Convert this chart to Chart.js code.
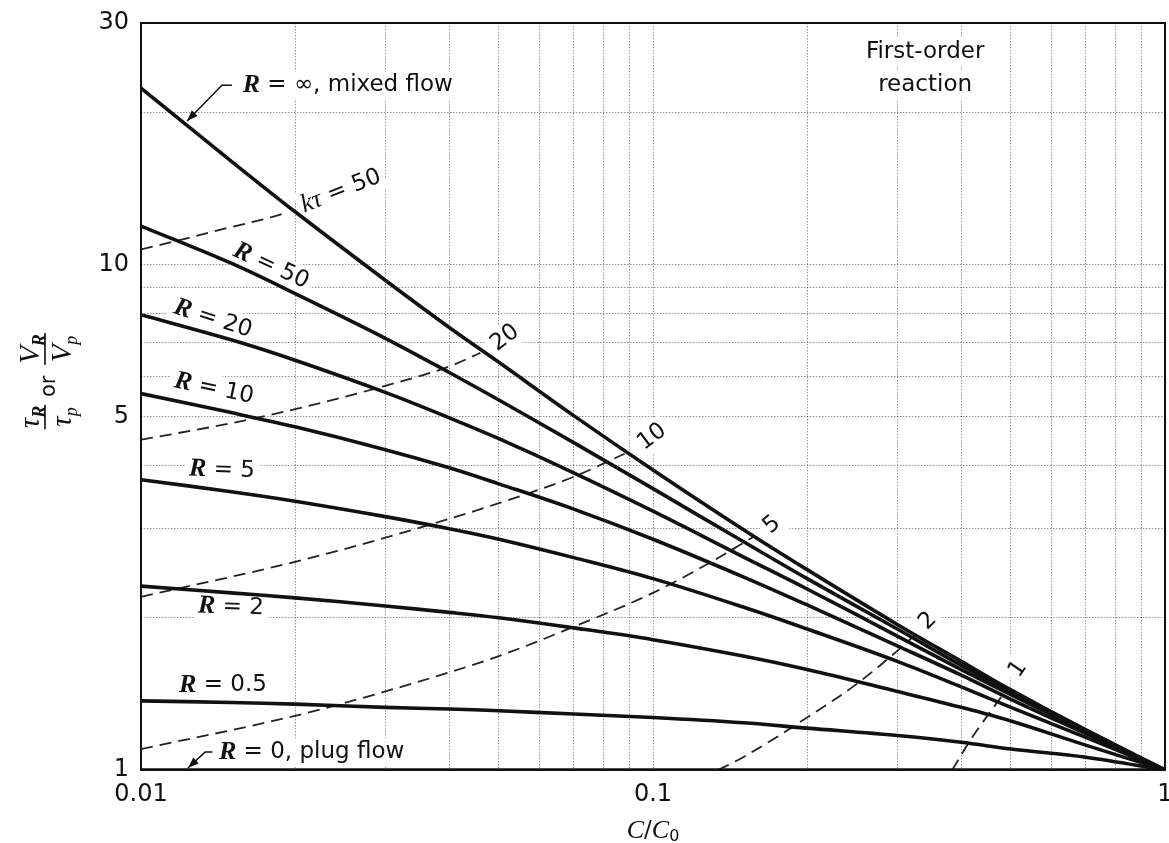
<!DOCTYPE html>
<html>
<head>
<meta charset="utf-8">
<script src="https://cdn.jsdelivr.net/npm/chart.js@4"></script>
<style>
html, body { margin: 0; padding: 0; background: #fff; }
</style>
</head>
<body>
<canvas id="recycle-chart" width="1169" height="843"></canvas>
<script>
var conversion = [0.01, 0.015, 0.02, 0.03, 0.04, 0.05, 0.07, 0.1, 0.15, 0.2, 0.3, 0.4, 0.5, 0.7, 1];
var r_inf = [22.3, 16.0, 12.7, 9.3, 7.5, 6.4, 5.02, 3.92, 2.99, 2.49, 1.94, 1.64, 1.44, 1.2, 1];
var r_50 = [11.9, 10.05, 8.75, 7.14, 6.11, 5.39, 4.44, 3.6, 2.83, 2.39, 1.9, 1.61, 1.43, 1.2, 1];
var r_20 = [7.95, 7.09, 6.46, 5.58, 4.97, 4.52, 3.87, 3.25, 2.64, 2.28, 1.84, 1.58, 1.41, 1.19, 1];
var r_10 = [5.55, 5.09, 4.77, 4.3, 3.96, 3.68, 3.28, 2.86, 2.41, 2.12, 1.76, 1.54, 1.38, 1.18, 1];
var r_5 = [3.75, 3.55, 3.4, 3.17, 3.0, 2.86, 2.63, 2.39, 2.1, 1.9, 1.64, 1.46, 1.33, 1.16, 1];
var r_2 = [2.31, 2.24, 2.19, 2.11, 2.05, 2.0, 1.91, 1.81, 1.68, 1.58, 1.43, 1.33, 1.25, 1.12, 1];
var r_05 = [1.37, 1.36, 1.35, 1.33, 1.32, 1.31, 1.29, 1.27, 1.24, 1.21, 1.17, 1.135, 1.1, 1.06, 1];
var r_0 = [1, 1, 1, 1, 1, 1, 1, 1, 1, 1, 1, 1, 1, 1, 1];

// dashed lines of constant k*tau
var kt50_x = [0.01, 0.0125, 0.015, 0.0175, 0.019];
var kt50_y = [10.7, 11.3, 11.85, 12.3, 12.6];
var kt20_x = [0.01, 0.015, 0.02, 0.03, 0.04, 0.046];
var kt20_y = [4.5, 4.85, 5.17, 5.75, 6.28, 6.68];
var kt10_x = [0.01, 0.02, 0.03, 0.05, 0.07, 0.088];
var kt10_y = [2.2, 2.58, 2.88, 3.37, 3.8, 4.22];
var kt5_x = [0.01, 0.02, 0.03, 0.05, 0.07, 0.1, 0.13, 0.157];
var kt5_y = [1.1, 1.28, 1.43, 1.68, 1.92, 2.24, 2.58, 2.89];
var kt2_x = [0.134, 0.15, 0.2, 0.25, 0.3, 0.325];
var kt2_y = [1.0, 1.06, 1.27, 1.48, 1.72, 1.85];
var kt1_x = [0.384, 0.42, 0.45, 0.49];
var kt1_y = [1.0, 1.16, 1.28, 1.44];

// grid lines and the ticks that carry a label
var x_grid = [0.01, 0.02, 0.03, 0.04, 0.05, 0.06, 0.07, 0.08, 0.09, 0.1, 0.2, 0.3, 0.4, 0.5, 0.6, 0.7, 0.8, 0.9, 1];
var x_labels = [0.01, 0.1, 1];
var y_grid = [1, 2, 3, 4, 5, 6, 7, 8, 9, 10, 20, 30];
var y_labels = [1, 5, 10, 30];

var SANS = '"DejaVu Sans"';
var SERIF = '"Liberation Serif"';
var FONTS = {
    s: '23px ' + SANS,
    rb: 'italic bold 26px ' + SERIF,
    i: 'italic 26px ' + SERIF,
    big: 'italic 29px ' + SERIF,
    sub: '16px ' + SANS,
    subb: 'italic bold 18px ' + SERIF,
    subi: 'italic 18px ' + SERIF
};

// text on the plot, placed in data coordinates
var notes = [
    {x: 0.0158, y: 22.6, rot: 0, align: 'left', parts: [['R', 'rb'], [' = \u221e, mixed flow', 's']]},
    {x: 0.02458, y: 13.96, rot: -21, parts: [['k\u03c4', 'i'], [' = 50', 's']]},
    {x: 0.01795, y: 9.92, rot: 25, parts: [['R', 'rb'], [' = 50', 's']]},
    {x: 0.01382, y: 7.80, rot: 18, parts: [['R', 'rb'], [' = 20', 's']]},
    {x: 0.01388, y: 5.67, rot: 12, parts: [['R', 'rb'], [' = 10', 's']]},
    {x: 0.01439, y: 3.92, rot: 2, parts: [['R', 'rb'], [' = 5', 's']]},
    {x: 0.01499, y: 2.10, rot: 2, parts: [['R', 'rb'], [' = 2', 's']]},
    {x: 0.01446, y: 1.473, rot: 0, parts: [['R', 'rb'], [' = 0.5', 's']]},
    {x: 0.0142, y: 1.085, rot: 0, align: 'left', parts: [['R', 'rb'], [' = 0, plug flow', 's']]},
    {x: 0.0514, y: 7.15, rot: -37, parts: [['20', 's']]},
    {x: 0.0996, y: 4.555, rot: -37, parts: [['10', 's']]},
    {x: 0.1708, y: 3.05, rot: -40, parts: [['5', 's']]},
    {x: 0.3444, y: 1.97, rot: -45, parts: [['2', 's']]},
    {x: 0.5162, y: 1.584, rot: -55, parts: [['1', 's']]},
    {x: 0.34, y: 26.3, rot: 0, parts: [['First-order', 's']]},
    {x: 0.34, y: 22.6, rot: 0, parts: [['reaction', 's']]}
];

var arrows = [
    [[0.01505, 22.6], [0.01439, 22.6], [0.0123, 19.2]],
    [[0.0138, 1.085], [0.01334, 1.085], [0.01235, 1.009]]
];

function zip(xs, ys) {
    return xs.map(function (x, i) { return {x: x, y: ys[i]}; });
}

function solid(label, ys) {
    return {label: label, data: zip(conversion, ys), borderColor: '#111', borderWidth: 3.6,
        pointRadius: 0, fill: false, tension: 0.35};
}

function dashed(label, xs, ys) {
    return {label: label, data: zip(xs, ys), borderColor: '#222', borderWidth: 1.8, borderDash: [12, 7],
        pointRadius: 0, fill: false, cubicInterpolationMode: 'monotone'};
}

function measure(ctx, parts) {
    var w = 0;
    parts.forEach(function (p) { ctx.font = FONTS[p[1]]; w += ctx.measureText(p[0]).width; });
    return w;
}

function placeNote(chart, n) {
    var ctx = chart.ctx;
    var px = chart.scales.x.getPixelForValue(n.x);
    var py = chart.scales.y.getPixelForValue(n.y);
    var w = measure(ctx, n.parts);
    ctx.translate(px, py);
    ctx.rotate(n.rot * Math.PI / 180);
    return n.align === 'left' ? {x0: 0, w: w} : {x0: -w / 2, w: w};
}

function drawParts(ctx, parts, x) {
    parts.forEach(function (p) {
        ctx.font = FONTS[p[1]];
        var dy = p[1].indexOf('sub') === 0 ? 6 : 0;
        ctx.fillText(p[0], x, dy);
        x += ctx.measureText(p[0]).width;
    });
    return x;
}

function drawArrow(chart, pts) {
    var ctx = chart.ctx;
    var p = pts.map(function (q) {
        return [chart.scales.x.getPixelForValue(q[0]), chart.scales.y.getPixelForValue(q[1])];
    });
    ctx.save();
    ctx.strokeStyle = '#111';
    ctx.fillStyle = '#111';
    ctx.lineWidth = 1.5;
    ctx.beginPath();
    ctx.moveTo(p[0][0], p[0][1]);
    for (var i = 1; i < p.length; i++) ctx.lineTo(p[i][0], p[i][1]);
    ctx.stroke();
    var a = p[p.length - 2], b = p[p.length - 1];
    var ang = Math.atan2(b[1] - a[1], b[0] - a[0]);
    ctx.translate(b[0], b[1]);
    ctx.rotate(ang);
    ctx.beginPath();
    ctx.moveTo(0, 0);
    ctx.lineTo(-11, -4);
    ctx.lineTo(-11, 4);
    ctx.closePath();
    ctx.fill();
    ctx.restore();
}

// fraction centred at u along the rotated baseline, bar at v = 0
function drawFraction(ctx, u, num, den) {
    var wn = measure(ctx, num), wd = measure(ctx, den);
    var w = Math.max(wn, wd) + 2;
    ctx.save();
    ctx.translate(0, -6);
    drawParts(ctx, num, u - wn / 2);
    ctx.restore();
    ctx.save();
    ctx.translate(0, 26);
    drawParts(ctx, den, u - wd / 2);
    ctx.restore();
    ctx.fillRect(u - w / 2, -0.8, w, 1.6);
}

var notesPlugin = {
    id: 'notes',
    beforeDatasetsDraw: function (chart) {
        var ctx = chart.ctx;
        notes.forEach(function (n) {
            ctx.save();
            var b = placeNote(chart, n);
            ctx.fillStyle = '#fff';
            ctx.fillRect(b.x0 - 4, -14, b.w + 8, 28);
            ctx.restore();
        });
    },
    afterDatasetsDraw: function (chart) {
        var ctx = chart.ctx;
        notes.forEach(function (n) {
            ctx.save();
            var b = placeNote(chart, n);
            ctx.fillStyle = '#111';
            ctx.textBaseline = 'middle';
            drawParts(ctx, n.parts, b.x0);
            ctx.restore();
        });
        arrows.forEach(function (a) { drawArrow(chart, a); });

        var area = chart.chartArea;
        ctx.save();
        ctx.strokeStyle = '#111';
        ctx.lineWidth = 2;
        ctx.strokeRect(area.left, area.top, area.right - area.left, area.bottom - area.top);
        ctx.restore();
    },
    afterDraw: function (chart) {
        var ctx = chart.ctx;
        var area = chart.chartArea;
        // x axis title C/C0
        ctx.save();
        ctx.fillStyle = '#111';
        ctx.textBaseline = 'middle';
        var xt = [['C', 'i'], ['/', 's'], ['C', 'i'], ['0', 'sub']];
        var w = measure(ctx, xt);
        ctx.translate((area.left + area.right) / 2, 831);
        drawParts(ctx, xt, -w / 2);
        ctx.restore();

        // y axis title: tauR/taup or VR/Vp, read bottom to top
        ctx.save();
        ctx.fillStyle = '#111';
        ctx.textBaseline = 'alphabetic';
        ctx.translate(45, 383);
        ctx.rotate(-Math.PI / 2);
        drawFraction(ctx, -34, [['\u03c4', 'big'], ['R', 'subb']], [['\u03c4', 'big'], ['p', 'subi']]);
        ctx.font = '21px ' + SANS;
        ctx.fillText('or', -14, 10);
        drawFraction(ctx, 34, [['V', 'big'], ['R', 'subb']], [['V', 'big'], ['p', 'subi']]);
        ctx.restore();
    }
};

var gridStyle = {color: 'rgba(0,0,0,0.42)', lineWidth: 1, drawTicks: false};

new Chart(document.getElementById('recycle-chart').getContext('2d'), {
    type: 'line',
    data: {
        datasets: [
            solid('R = inf', r_inf), solid('R = 50', r_50), solid('R = 20', r_20),
            solid('R = 10', r_10), solid('R = 5', r_5), solid('R = 2', r_2),
            solid('R = 0.5', r_05), solid('R = 0', r_0),
            dashed('kt = 50', kt50_x, kt50_y), dashed('kt = 20', kt20_x, kt20_y),
            dashed('kt = 10', kt10_x, kt10_y), dashed('kt = 5', kt5_x, kt5_y),
            dashed('kt = 2', kt2_x, kt2_y), dashed('kt = 1', kt1_x, kt1_y)
        ]
    },
    options: {
        responsive: false,
        animation: false,
        layout: {padding: {left: 0, right: 4, top: 23, bottom: 0}},
        plugins: {legend: {display: false}, tooltip: {enabled: false}},
        scales: {
            x: {
                type: 'logarithmic', min: 0.01, max: 1,
                grid: gridStyle,
                border: {display: false, dash: [1.5, 1.5]},
                afterBuildTicks: function (scale) { scale.ticks = x_grid.map(function (v) { return {value: v}; }); },
                afterFit: function (scale) {
                    scale.height = 73;
                    scale.paddingLeft = 0;
                    scale.paddingRight = 0;
                },
                ticks: {
                    autoSkip: false, maxRotation: 0, padding: 10, color: '#111',
                    font: {family: 'DejaVu Sans', size: 24},
                    callback: function (v) { return x_labels.indexOf(v) >= 0 ? String(v) : ''; }
                }
            },
            y: {
                type: 'logarithmic', min: 1, max: 30,
                grid: gridStyle,
                border: {display: false, dash: [1.5, 1.5]},
                afterBuildTicks: function (scale) { scale.ticks = y_grid.map(function (v) { return {value: v}; }); },
                afterFit: function (scale) {
                    scale.width = 141;
                    scale.paddingTop = 0;
                    scale.paddingBottom = 0;
                },
                ticks: {
                    autoSkip: false, padding: 12, color: '#111',
                    font: {family: 'DejaVu Sans', size: 24},
                    callback: function (v) { return y_labels.indexOf(v) >= 0 ? String(v) : ''; }
                }
            }
        }
    },
    plugins: [notesPlugin]
});
</script>
</body>
</html>
